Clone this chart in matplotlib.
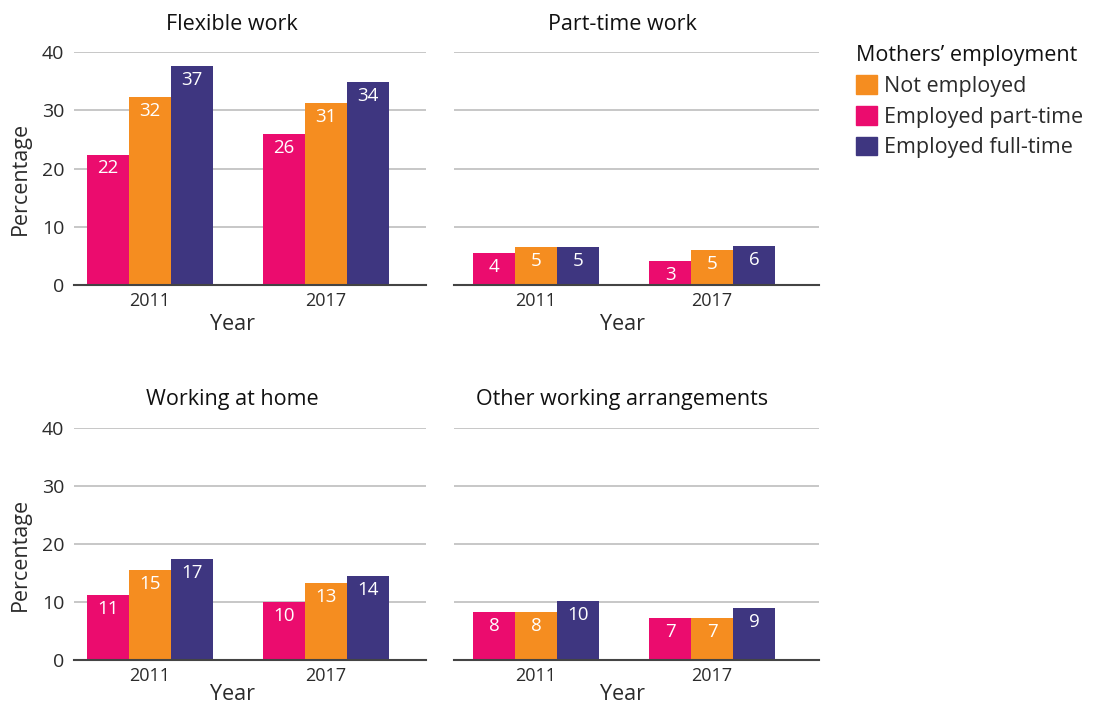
import matplotlib
matplotlib.use("Agg")
import matplotlib.pyplot as plt
from matplotlib.patches import Patch
import numpy as np

plt.rcParams['font.family'] = ['Open Sans', 'DejaVu Sans']

years = ["2011", "2017"]
series = ["Employed part-time", "Not employed", "Employed full-time"]
colors = {"Employed part-time": "#EB0C6E", "Not employed": "#F58D20", "Employed full-time": "#3E3680"}
panels = ["Flexible work", "Part-time work", "Working at home", "Other working arrangements"]

# bar heights (per panel, per series, per year)
flex_vals = {"Employed part-time": [22.4, 25.9], "Not employed": [32.2, 31.3], "Employed full-time": [37.6, 34.8]}
part_vals = {"Employed part-time": [5.5, 4.1], "Not employed": [6.5, 6.0], "Employed full-time": [6.5, 6.7]}
home_vals = {"Employed part-time": [11.2, 10.0], "Not employed": [15.5, 13.2], "Employed full-time": [17.4, 14.5]}
other_vals = {"Employed part-time": [8.3, 7.2], "Not employed": [8.3, 7.2], "Employed full-time": [10.2, 9.0]}

# printed labels
flex_labels = {"Employed part-time": [22, 26], "Not employed": [32, 31], "Employed full-time": [37, 34]}
part_labels = {"Employed part-time": [4, 3], "Not employed": [5, 5], "Employed full-time": [5, 6]}
home_labels = {"Employed part-time": [11, 10], "Not employed": [15, 13], "Employed full-time": [17, 14]}
other_labels = {"Employed part-time": [8, 7], "Not employed": [8, 7], "Employed full-time": [10, 9]}

yticks = [0, 10, 20, 30, 40]

W, H = 1098, 709
fig = plt.figure(figsize=(W / 100, H / 100), dpi=100)

def fx(px):
    return px / W

def fy(py):
    return 1 - py / H

text_color = "#2b2b2b"
cols = [(74, 426, 150, 326), (454, 819, 536, 712)]
rows = [(52, 285), (428, 660)]
data = [(flex_vals, flex_labels), (part_vals, part_labels), (home_vals, home_labels), (other_vals, other_labels)]
title_x = [232, 622]
title_y = [24, 399]
year_y = [325, 694]
big = 15.5

for i, title in enumerate(panels):
    r, c = divmod(i, 2)
    x0, x1, c0, c1 = cols[c]
    ytop, ybot = rows[r]
    ax = fig.add_axes([fx(x0), fy(ybot), fx(x1 - x0), (ybot - ytop) / H])
    unit = c1 - c0
    ax.set_xlim(-(c0 - x0) / unit, 1 + (x1 - c1) / unit)
    ax.set_ylim(0, 40)
    width = 42 / unit
    vals, labs = data[i]
    x = np.arange(len(years))
    for k, s in enumerate(series):
        xs = x + (k - 1) * width
        bars = ax.bar(xs, vals[s], width=width, color=colors[s], zorder=3, linewidth=0)
        for b, lab in zip(bars, labs[s]):
            ax.annotate(str(lab), (b.get_x() + b.get_width() / 2, b.get_height()),
                        xytext=(0, -10), textcoords="offset points", ha="center", va="center",
                        color="white", fontsize=13.5, zorder=4)
    ax.set_yticks(yticks)
    ax.yaxis.grid(True, color="#bdbdbd", linewidth=1.2, zorder=0)
    ax.set_axisbelow(True)
    for sp in ["left", "right", "top"]:
        ax.spines[sp].set_visible(False)
    ax.spines["bottom"].set_color("#444444")
    ax.spines["bottom"].set_linewidth(1.5)
    ax.spines["bottom"].set_zorder(5)
    ax.set_xticks(x)
    ax.set_xticklabels(years)
    ax.tick_params(axis="x", length=0, pad=5, labelsize=13, labelcolor=text_color)
    ax.tick_params(axis="y", length=0, pad=7, labelsize=14, labelcolor=text_color)
    if c == 1:
        ax.set_yticklabels([])
    fig.text(fx(title_x[c]), fy(title_y[r]), title, ha="center", va="center",
             fontsize=big, color="#111111")
    fig.text(fx(title_x[c]), fy(year_y[r]), "Year", ha="center", va="center",
             fontsize=big, color=text_color)
    if c == 0:
        fig.text(fx(20), fy((ytop + ybot) / 2 + 10), "Percentage", rotation=90,
                 ha="center", va="center", fontsize=big, color=text_color)

handles = [Patch(color=colors[s], label=s) for s in ["Not employed", "Employed part-time", "Employed full-time"]]
leg = fig.legend(handles=handles, title="Mothers\u2019 employment", loc="upper left",
                 bbox_to_anchor=(fx(852), fy(41)), frameon=False, fontsize=big,
                 title_fontsize=big, handlelength=0.95, handleheight=0.95, handletextpad=0.35,
                 labelspacing=0.42, borderaxespad=0, borderpad=0.2, alignment="left")
for t in leg.get_texts():
    t.set_color(text_color)
leg.get_title().set_color("#111111")

fig.savefig("out.png", dpi=100)
